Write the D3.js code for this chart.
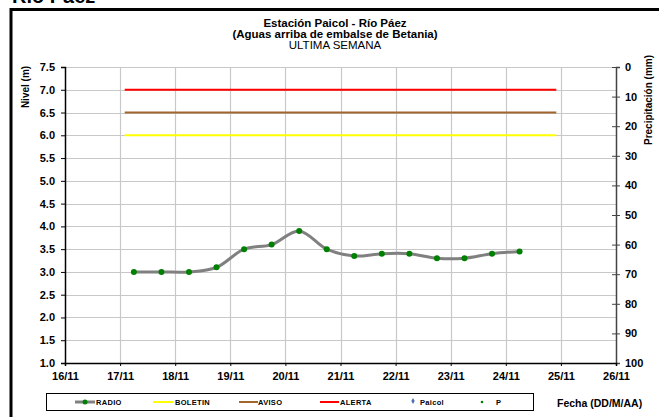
<!DOCTYPE html>
<html><head><meta charset="utf-8">
<script src="https://cdn.jsdelivr.net/npm/d3@7"></script>
<style>
body{margin:0;background:#fff;}
svg{display:block;font-family:"Liberation Sans",Arial,sans-serif;}
</style></head>
<body><svg id="c" width="659" height="417"></svg>
<script>
// ---- data ----
const radioTimes = ["2023-11-17 06:00","2023-11-17 18:00","2023-11-18 06:00","2023-11-18 18:00",
  "2023-11-19 06:00","2023-11-19 18:00","2023-11-20 06:00","2023-11-20 18:00",
  "2023-11-21 06:00","2023-11-21 18:00","2023-11-22 06:00","2023-11-22 18:00",
  "2023-11-23 06:00","2023-11-23 18:00","2023-11-24 06:00"];
const radioLevels = [3.0,3.0,3.0,3.1,3.5,3.6,3.9,3.5,3.35,3.4,3.4,3.3,3.3,3.4,3.45];
const thresholdNames = ["BOLETIN","AVISO","ALERTA"];
const thresholdLevels = [6.0,6.5,7.0];
const thresholdSpan = ["2023-11-17 02:00","2023-11-24 22:00"];
const xDomain = ["2023-11-16 00:00","2023-11-26 00:00"];
const levelTicks = [1.0,1.5,2.0,2.5,3.0,3.5,4.0,4.5,5.0,5.5,6.0,6.5,7.0,7.5];
const precipTicks = [0,10,20,30,40,50,60,70,80,90,100];
const legendLabels = ["RADIO","BOLETIN","AVISO","ALERTA","Paicol","P"];
const titleLines = ["Estación Paicol  - Río Páez","(Aguas arriba de embalse de Betania)","ULTIMA SEMANA"];

// ---- drawing ----
const parse = d3.timeParse("%Y-%m-%d %H:%M");
const svg = d3.select("#c");
const L=65, R=616, T=67, B=363;
const x = d3.scaleTime().domain(xDomain.map(parse)).range([L,R]);
const y = d3.scaleLinear().domain([1.0,7.5]).range([B,T]);
const y2 = d3.scaleLinear().domain([0,100]).range([T,B]);
const thrColors = {"BOLETIN":"#ffff00","AVISO":"#a0662d","ALERTA":"#ff0000"};

// outer frame
svg.append("text").attr("x",12).attr("y",2.5).attr("font-size",20).attr("font-weight","bold").text("Río Páez");
svg.append("line").attr("x1",10).attr("x2",659).attr("y1",9.5).attr("y2",9.5).attr("stroke","#000").attr("stroke-width",3);
svg.append("line").attr("x1",11).attr("x2",11).attr("y1",8).attr("y2",417).attr("stroke","#000").attr("stroke-width",3);

// titles
titleLines.forEach((t,i)=>{
  svg.append("text").attr("x",335).attr("y",27+i*11).attr("text-anchor","middle")
    .attr("font-size",11.5).attr("font-weight",i<2?"bold":"normal").text(t);
});

// grid
const grid = svg.append("g");
grid.selectAll("line.h").data(levelTicks.slice(1)).join("line")
  .attr("x1",L).attr("x2",R).attr("y1",d=>Math.round(y(d))+0.5).attr("y2",d=>Math.round(y(d))+0.5)
  .attr("stroke","#c8c8c8").attr("stroke-width",1.2);
const days = d3.timeDay.range(parse(xDomain[0]), d3.timeDay.offset(parse(xDomain[1]),1));
grid.selectAll("line.v").data(days.slice(1,-1)).join("line")
  .attr("y1",T).attr("y2",B).attr("x1",d=>Math.round(x(d))+0.5).attr("x2",d=>Math.round(x(d))+0.5)
  .attr("stroke","#c8c8c8").attr("stroke-width",1.2);

// axes
const fmt = d3.format(".1f");
const gl = svg.append("g").attr("transform",`translate(${L},0)`)
  .call(d3.axisLeft(y).tickValues(levelTicks).tickFormat(fmt).tickSize(4).tickPadding(6));
const gr = svg.append("g").attr("transform",`translate(${R},0)`)
  .call(d3.axisRight(y2).tickValues(precipTicks).tickSize(4).tickPadding(5));
gr.selectAll(".tick line").attr("x1",-4);
const gb = svg.append("g").attr("transform",`translate(0,${B})`)
  .call(d3.axisBottom(x).tickValues(days).tickFormat(d3.timeFormat("%d/%m")).tickSize(3).tickPadding(6));
[gl,gr,gb].forEach(g=>{
  g.selectAll("text").attr("font-size",11).attr("font-weight","bold").attr("fill","#000")
   .attr("font-family","Liberation Sans, Arial, sans-serif");
  g.selectAll("line,path").attr("stroke","#000");
});
gr.selectAll("path,line").attr("stroke","#444");
gl.select("path").attr("stroke-width",1.5);
gb.select("path").attr("stroke-width",1.5);
gr.select("path").attr("stroke-width",1.5);

// axis titles
svg.append("text").attr("transform","translate(29,87) rotate(-90)").attr("text-anchor","middle")
  .attr("font-size",10).attr("font-weight","bold").text("Nivel  (m)");
svg.append("text").attr("transform","translate(652,100) rotate(-90)").attr("text-anchor","middle")
  .attr("font-size",10).attr("font-weight","bold").text("Precipitación (mm)");
svg.append("text").attr("x",557).attr("y",407).attr("font-size",10.5).attr("font-weight","bold").text("Fecha  (DD/M/AA)");

// thresholds
thresholdNames.forEach((n,i)=>{
  svg.append("line").attr("x1",x(parse(thresholdSpan[0]))).attr("x2",x(parse(thresholdSpan[1])))
    .attr("y1",y(thresholdLevels[i])).attr("y2",y(thresholdLevels[i]))
    .attr("stroke",thrColors[n]).attr("stroke-width",2);
});

// radio series
const pts = radioTimes.map((t,i)=>[parse(t),radioLevels[i]]);
svg.append("path").attr("d",d3.line().x(d=>x(d[0])).y(d=>y(d[1])).curve(d3.curveCatmullRom.alpha(0.5))(pts))
  .attr("fill","none").attr("stroke","#808080").attr("stroke-width",3);
svg.selectAll("circle.r").data(pts).join("circle").attr("cx",d=>x(d[0])).attr("cy",d=>y(d[1]))
  .attr("r",3).attr("fill","#008000");

// legend
const lg = svg.append("g");
lg.append("rect").attr("x",46.5).attr("y",393.5).attr("width",487).attr("height",17)
  .attr("fill","#fff").attr("stroke","#000").attr("stroke-width",1);
const ly = 402;
const items = [
  {n:legendLabels[0], x1:75, x2:95, tx:96, kind:"radio"},
  {n:legendLabels[1], x1:153, x2:173, tx:175, kind:"line", c:thrColors.BOLETIN},
  {n:legendLabels[2], x1:239, x2:258, tx:258, kind:"line", c:thrColors.AVISO},
  {n:legendLabels[3], x1:320, x2:339, tx:340, kind:"line", c:thrColors.ALERTA},
  {n:legendLabels[4], x1:413, x2:413, tx:420, kind:"diamond"},
  {n:legendLabels[5], x1:482, x2:482, tx:496, kind:"dot"}
];
items.forEach(it=>{
  if(it.kind==="radio"){
    lg.append("line").attr("x1",it.x1).attr("x2",it.x2).attr("y1",ly).attr("y2",ly).attr("stroke","#808080").attr("stroke-width",3);
    lg.append("circle").attr("cx",(it.x1+it.x2)/2).attr("cy",ly).attr("r",2.5).attr("fill","#008000");
  } else if(it.kind==="line"){
    lg.append("line").attr("x1",it.x1).attr("x2",it.x2).attr("y1",ly).attr("y2",ly).attr("stroke",it.c).attr("stroke-width",2);
  } else if(it.kind==="diamond"){
    lg.append("path").attr("d",d3.symbol(d3.symbolDiamond,10)()).attr("transform",`translate(${it.x1},${ly-1})`).attr("fill","#4a6fb5");
  } else {
    lg.append("circle").attr("cx",it.x1).attr("cy",ly).attr("r",1.3).attr("fill","#008000");
  }
  lg.append("text").attr("x",it.tx).attr("y",ly+3).attr("font-size",7.5).attr("font-weight","bold")
    .attr("letter-spacing",0.3).text(it.n);
});
</script></body></html>
